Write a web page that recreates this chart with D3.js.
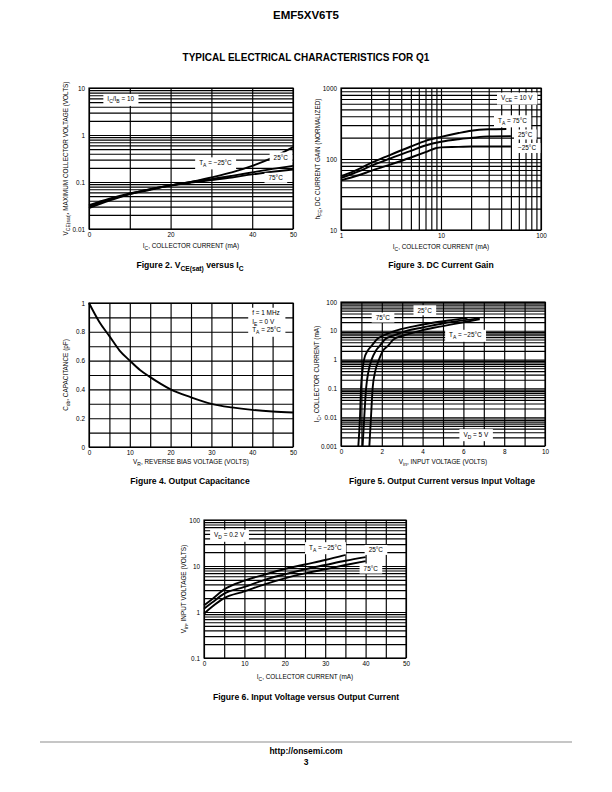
<!DOCTYPE html>
<html><head><meta charset="utf-8">
<script src="https://cdn.jsdelivr.net/npm/d3@7/dist/d3.min.js"></script>
<style>
body{margin:0;background:#fff}
svg{font-family:"Liberation Sans",Arial,Helvetica,sans-serif;display:block}
</style></head><body>
<svg id="page" width="612" height="792"></svg>
<script>
// ---------- Figure 2: VCE(sat) vs IC ----------
const fig2X = [0,5,10,15,20,25,30,35,40,45,50];
const fig2Tm25 = [0.028,0.04,0.055,0.068,0.085,0.1,0.125,0.16,0.22,0.33,0.55];
const fig2T25  = [0.03,0.042,0.056,0.07,0.085,0.1,0.115,0.135,0.16,0.19,0.22];
const fig2T75  = [0.032,0.044,0.057,0.07,0.084,0.097,0.11,0.125,0.145,0.165,0.185];
const fig2XTicks = [0,20,40,50];
const fig2YTicks = [0.01,0.1,1,10];
const fig2YLabels = ["0.01","0.1","1","10"];

// ---------- Figure 3: DC current gain ----------
const fig3X75  = [1,1.5,2,3,5,7,10,15,20,30,45];
const fig3Y75  = [57,72,88,112,150,180,205,232,250,262,265];
const fig3X25  = [1,1.5,2,3,5,7,10,15,20,30,50];
const fig3Y25  = [54,67,80,100,130,155,175,190,198,208,210];
const fig3Xm25 = [1,1.5,2,3,5,7,9,10,15,20,30,50];
const fig3Ym25 = [50,59,68,82,105,125,143,146,148,150,150,150];
const fig3XTicks = [1,10,100];
const fig3YTicks = [10,100,1000];

// ---------- Figure 4: Output capacitance ----------
const fig4X = [0,2.5,5,7.5,10,12.5,15,17.5,20,25,30,35,40,45,50];
const fig4Y = [1,0.87,0.77,0.67,0.6,0.535,0.485,0.44,0.4,0.345,0.3,0.275,0.258,0.247,0.24];
const fig4XTicks = [0,10,20,30,40,50];
const fig4YTicks = [0,0.2,0.4,0.6,0.8,1];
const fig4YLabels = ["0","0.2","0.4","0.6","0.8","1"];

// ---------- Figure 5: Output current vs input voltage ----------
const fig5X75  = [0.85,0.93,0.98,1.05,1.13,1.3,1.5,1.75,2.1,2.65,3.5,4.5,5.5,6.2];
const fig5Y75  = [0.001,0.01,0.1,0.4,1,2,3,5,7,10,14,19,24,28];
const fig5X25  = [1.06,1.14,1.23,1.35,1.5,1.7,1.9,2.15,2.6,3.2,4,5,6,6.8];
const fig5Y25  = [0.001,0.01,0.1,0.4,1,2,3,5,7,10,13,18,23,27];
const fig5Xm25 = [1.39,1.47,1.55,1.68,1.86,2.05,2.3,2.57,3.1,3.87,4.6,5.5,6.2,6.8];
const fig5Ym25 = [0.001,0.01,0.1,0.4,1,2,3,5,7,10,13,17,21,25];
const fig5XTicks = [0,2,4,6,8,10];
const fig5YTicks = [0.001,0.01,0.1,1,10,100];
const fig5YLabels = ["0.001","0.01","0.1","1","10","100"];

// ---------- Figure 6: Input voltage vs output current ----------
const fig6Xm25 = [0,2,5,10,15,20,25,30,35];
const fig6Ym25 = [1.4,1.9,3.1,4.8,6.5,8.6,10.8,13.5,17.5];
const fig6X    = [0,2,5,10,15,20,25,30,35,40];
const fig6Y25  = [1.18,1.6,2.5,3.5,5.0,6.6,8.5,10.5,13,15.6];
const fig6Y75  = [0.92,1.3,2.0,2.8,4.0,5.4,6.9,8.5,10.5,12.8];
const fig6XTicks = [0,10,20,30,40,50];
const fig6YTicks = [0.1,1,10,100];
const fig6YLabels = ["0.1","1","10","100"];

// ---------------------------------------------------------
const svg = d3.select("#page");
const TICK_FS = 6.4, TITLE_FS = 6.4, CAP_FS = 8.6;

function rich(text, str, size) {
  const re = /_\{([^}]*)\}/g;
  let last = 0, m, inSub = false;
  const sh = size * 0.32;
  function add(s, sub) {
    if (!s) return;
    const t = text.append("tspan").text(s);
    if (sub && !inSub) { t.attr("dy", sh).attr("font-size", size * 0.78); inSub = true; }
    else if (sub) { t.attr("font-size", size * 0.78); }
    else if (!sub && inSub) { t.attr("dy", -sh); inSub = false; }
  }
  while ((m = re.exec(str))) {
    add(str.slice(last, m.index), false);
    add(m[1], true);
    last = re.lastIndex;
  }
  add(str.slice(last), false);
  return text;
}

function logGrid(lo, hi) {
  const out = [];
  for (let e = Math.round(Math.log10(lo)); e < Math.round(Math.log10(hi)); e++)
    for (let k = 1; k <= 9; k++) out.push(k * Math.pow(10, e));
  out.push(hi);
  return out;
}

function makeChart(c) {
  const g = svg.append("g");
  const x = (c.xLog ? d3.scaleLog() : d3.scaleLinear()).domain(c.xDom).range([c.x0, c.x1]);
  const y = (c.yLog ? d3.scaleLog() : d3.scaleLinear()).domain(c.yDom).range([c.y1, c.y0]);
  const w = c.x1 - c.x0, h = c.y1 - c.y0;

  const gx = g.append("g").attr("transform", `translate(0,${c.y1})`)
    .call(d3.axisBottom(x).tickValues(c.xGrid).tickSize(-h).tickFormat(""));
  const gy = g.append("g").attr("transform", `translate(${c.x0},0)`)
    .call(d3.axisLeft(y).tickValues(c.yGrid).tickSize(-w).tickFormat(""));
  [gx, gy].forEach(a => {
    a.select(".domain").remove();
    a.selectAll("line").attr("stroke", "#000").attr("stroke-width", 1.15);
  });
  g.append("rect").attr("x", c.x0).attr("y", c.y0).attr("width", w).attr("height", h)
    .attr("fill", "none").attr("stroke", "#000").attr("stroke-width", 1.15);

  const lx = g.append("g").attr("transform", `translate(0,${c.y1})`)
    .call(d3.axisBottom(x).tickValues(c.xTicks).tickSize(0).tickPadding(3)
      .tickFormat((d, i) => c.xLabels ? c.xLabels[i] : String(d)));
  const ly = g.append("g").attr("transform", `translate(${c.x0},0)`)
    .call(d3.axisLeft(y).tickValues(c.yTicks).tickSize(0).tickPadding(4)
      .tickFormat((d, i) => c.yLabels ? c.yLabels[i] : String(d)));
  [lx, ly].forEach(a => {
    a.select(".domain").remove();
    a.selectAll("text").attr("font-size", TICK_FS).attr("fill", "#000")
      .attr("font-family", "Liberation Sans, Arial, sans-serif");
  });

  const line = d3.line().x(d => x(d[0])).y(d => y(d[1])).curve(d3.curveMonotoneX);
  c.series.forEach(s => {
    const pts = s.x.map((v, i) => [v, s.y[i]]);
    g.append("path").attr("d", line(pts)).attr("fill", "none")
      .attr("stroke", "#000").attr("stroke-width", 1.9).attr("stroke-linejoin", "round");
  });

  (c.notes || []).forEach(n => {
    const ng = g.append("g");
    const lines = Array.isArray(n.t) ? n.t : [n.t];
    const texts = lines.map((str, i) => {
      const t = ng.append("text").attr("x", c.x0 + n.fx * w)
        .attr("y", c.y0 + n.fy * h + i * 8.5).attr("font-size", TICK_FS)
        .attr("text-anchor", n.anchor || "start");
      return rich(t, str, TICK_FS);
    });
    let bb = null;
    texts.forEach(t => {
      const b = t.node().getBBox();
      if (!bb) bb = {x0: b.x, y0: b.y, x1: b.x + b.width, y1: b.y + b.height};
      else { bb.x0 = Math.min(bb.x0, b.x); bb.y0 = Math.min(bb.y0, b.y);
             bb.x1 = Math.max(bb.x1, b.x + b.width); bb.y1 = Math.max(bb.y1, b.y + b.height); }
    });
    const p = n.pad || 4;
    ng.insert("rect", "text").attr("x", bb.x0 - p).attr("y", bb.y0 - 1.5)
      .attr("width", bb.x1 - bb.x0 + 2 * p).attr("height", bb.y1 - bb.y0 + 3).attr("fill", "#fff");
  });

  rich(g.append("text").attr("x", (c.x0 + c.x1) / 2).attr("y", c.y1 + c.xtDy)
    .attr("text-anchor", "middle").attr("font-size", TITLE_FS), c.xTitle, TITLE_FS);
  rich(g.append("text").attr("transform", `translate(${c.x0 - c.ytDx},${(c.y0 + c.y1) / 2}) rotate(-90)`)
    .attr("text-anchor", "middle").attr("font-size", TITLE_FS), c.yTitle, TITLE_FS);
  rich(g.append("text").attr("x", c.capX).attr("y", c.capY).attr("text-anchor", "middle")
    .attr("font-size", CAP_FS).attr("font-weight", "bold"), c.caption, CAP_FS);
}

makeChart({
  x0: 89, x1: 293, y0: 88, y1: 229, xDom: [0, 50], yLog: true, yDom: [0.01, 10],
  xGrid: d3.range(0, 51, 10), yGrid: logGrid(0.01, 10),
  xTicks: fig2XTicks, yTicks: fig2YTicks, yLabels: fig2YLabels,
  series: [{x: fig2X, y: fig2Tm25}, {x: fig2X, y: fig2T25}, {x: fig2X, y: fig2T75}],
  notes: [
    {t: "I_{C}/I_{B} = 10", fx: 0.09, fy: 0.095},
    {t: "T_{A} = −25°C", fx: 0.54, fy: 0.545},
    {t: "25°C", fx: 0.905, fy: 0.51},
    {t: "75°C", fx: 0.88, fy: 0.655}
  ],
  xTitle: "I_{C}, COLLECTOR CURRENT (mA)", xtDy: 19,
  yTitle: "V_{CE(sat)}, MAXIMUM COLLECTOR VOLTAGE (VOLTS)", ytDx: 21,
  caption: "Figure 2. V_{CE(sat)} versus I_{C}", capX: 190, capY: 268
});

makeChart({
  x0: 341, x1: 541, y0: 88, y1: 230, xLog: true, xDom: [1, 100], yLog: true, yDom: [10, 1000],
  xGrid: logGrid(1, 100), yGrid: logGrid(10, 1000),
  xTicks: fig3XTicks, yTicks: fig3YTicks,
  series: [{x: fig3X75, y: fig3Y75}, {x: fig3X25, y: fig3Y25}, {x: fig3Xm25, y: fig3Ym25}],
  notes: [
    {t: "V_{CE} = 10 V", fx: 0.8, fy: 0.085},
    {t: "T_{A} = 75°C", fx: 0.785, fy: 0.245},
    {t: "25°C", fx: 0.885, fy: 0.345},
    {t: "−25°C", fx: 0.885, fy: 0.44}
  ],
  xTitle: "I_{C}, COLLECTOR CURRENT (mA)", xtDy: 19,
  yTitle: "h_{FE}, DC CURRENT GAIN (NORMALIZED)", ytDx: 21,
  caption: "Figure 3. DC Current Gain", capX: 441, capY: 268
});

makeChart({
  x0: 89, x1: 293, y0: 303, y1: 447, xDom: [0, 50], yDom: [0, 1],
  xGrid: d3.range(0, 51, 5), yGrid: d3.range(0, 11).map(d => d / 10),
  xTicks: fig4XTicks, yTicks: fig4YTicks, yLabels: fig4YLabels,
  series: [{x: fig4X, y: fig4Y}],
  notes: [
    {t: ["f = 1 MHz", "I_{E} = 0 V", "T_{A} = 25°C"], fx: 0.8, fy: 0.085}
  ],
  xTitle: "V_{R}, REVERSE BIAS VOLTAGE (VOLTS)", xtDy: 17,
  yTitle: "C_{ob}, CAPACITANCE (pF)", ytDx: 21,
  caption: "Figure 4. Output Capacitance", capX: 190, capY: 484
});

makeChart({
  x0: 341, x1: 545, y0: 302, y1: 446, xDom: [0, 10], yLog: true, yDom: [0.001, 100],
  xGrid: d3.range(0, 11, 1), yGrid: logGrid(0.001, 100),
  xTicks: fig5XTicks, yTicks: fig5YTicks, yLabels: fig5YLabels,
  series: [{x: fig5X75, y: fig5Y75}, {x: fig5X25, y: fig5Y25}, {x: fig5Xm25, y: fig5Ym25}],
  notes: [
    {t: "25°C", fx: 0.375, fy: 0.075},
    {t: "75°C", fx: 0.17, fy: 0.125},
    {t: "T_{A} = −25°C", fx: 0.53, fy: 0.245},
    {t: "V_{D} = 5 V", fx: 0.6, fy: 0.935}
  ],
  xTitle: "V_{in}, INPUT VOLTAGE (VOLTS)", xtDy: 18,
  yTitle: "I_{C}, COLLECTOR CURRENT (mA)", ytDx: 22,
  caption: "Figure 5. Output Current versus Input Voltage", capX: 442, capY: 484
});

makeChart({
  x0: 204, x1: 406, y0: 520, y1: 658, xDom: [0, 50], yLog: true, yDom: [0.1, 100],
  xGrid: d3.range(0, 51, 5), yGrid: logGrid(0.1, 100),
  xTicks: fig6XTicks, yTicks: fig6YTicks, yLabels: fig6YLabels,
  series: [{x: fig6Xm25, y: fig6Ym25}, {x: fig6X, y: fig6Y25}, {x: fig6X, y: fig6Y75}],
  notes: [
    {t: "V_{D} = 0.2 V", fx: 0.05, fy: 0.125},
    {t: "T_{A} = −25°C", fx: 0.52, fy: 0.215},
    {t: "25°C", fx: 0.815, fy: 0.235},
    {t: "75°C", fx: 0.79, fy: 0.37}
  ],
  xTitle: "I_{C}, COLLECTOR CURRENT (mA)", xtDy: 21,
  yTitle: "V_{in}, INPUT VOLTAGE (VOLTS)", ytDx: 18,
  caption: "Figure 6. Input Voltage versus Output Current", capX: 306, capY: 700
});

svg.append("text").attr("x", 306).attr("y", 19).attr("text-anchor", "middle")
  .attr("font-size", 11.5).attr("font-weight", "bold").text("EMF5XV6T5");
svg.append("text").attr("x", 306).attr("y", 61).attr("text-anchor", "middle")
  .attr("font-size", 10).attr("font-weight", "bold").text("TYPICAL ELECTRICAL CHARACTERISTICS FOR Q1");
svg.append("line").attr("x1", 40).attr("x2", 572).attr("y1", 742).attr("y2", 742)
  .attr("stroke", "#b3b3b3").attr("stroke-width", 1.5);
svg.append("text").attr("x", 306).attr("y", 754).attr("text-anchor", "middle")
  .attr("font-size", 8.5).attr("font-weight", "bold").text("http://onsemi.com");
svg.append("text").attr("x", 306).attr("y", 765).attr("text-anchor", "middle")
  .attr("font-size", 8.5).attr("font-weight", "bold").text("3");
</script>
</body></html>
